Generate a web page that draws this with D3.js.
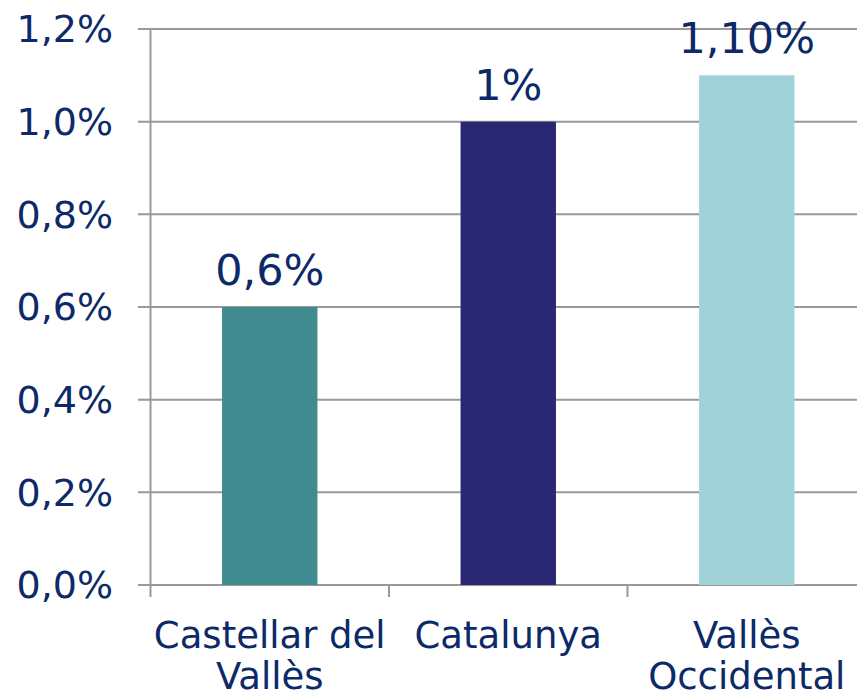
<!DOCTYPE html>
<html><head><meta charset="utf-8">
<script src="https://cdn.jsdelivr.net/npm/d3@7"></script>
<style>html,body{margin:0;padding:0;background:#fff;}svg{display:block;}</style>
</head><body>
<svg id="chart" width="857" height="694"></svg>
<script>
const categories = ["Castellar del Vallès", "Catalunya", "Vallès Occidental"];
const categoryLines = [["Castellar del", "Vallès"], ["Catalunya"], ["Vallès", "Occidental"]];
const values = [0.6, 1.0, 1.1];
const valueLabels = ["0,6%", "1%", "1,10%"];
const barColors = ["#3f8b90", "#2a2873", "#a0d3d7"];
const yTicks = [0, 0.2, 0.4, 0.6, 0.8, 1.0, 1.2];

(function () {
const textColor = "#0c2a68";
const gridColor = "#999999";
const font = "'DejaVu Sans', Verdana, sans-serif";

const svg = d3.select("#chart");
const mLeft = 150.5, mTop = 29, mBottom = 585;
const band = 238.5;
const x = d3.scaleBand().domain(categories).range([mLeft, mLeft + band * 3]).paddingInner(0).paddingOuter(0);
const y = d3.scaleLinear().domain([0, 1.2]).range([mBottom, mTop]);

svg.append("g").selectAll("line").data(yTicks).join("line")
  .attr("x1", 138).attr("x2", 857)
  .attr("y1", d => y(d)).attr("y2", d => y(d))
  .attr("stroke", gridColor).attr("stroke-width", 2);

svg.append("line").attr("x1", mLeft).attr("x2", mLeft).attr("y1", mTop).attr("y2", 597)
  .attr("stroke", gridColor).attr("stroke-width", 2);

svg.append("g").selectAll("line").data(categories.slice(1)).join("line")
  .attr("x1", d => x(d)).attr("x2", d => x(d))
  .attr("y1", mBottom).attr("y2", 597)
  .attr("stroke", gridColor).attr("stroke-width", 2);

svg.append("g").selectAll("text").data(yTicks).join("text")
  .attr("x", 113).attr("y", d => y(d)).attr("dy", "0.35em")
  .attr("text-anchor", "end")
  .attr("font-family", font).attr("font-size", 38).attr("fill", textColor)
  .text(d => d3.format(".1f")(d).replace(".", ",") + "%");

const bw = band * 0.4;
svg.append("g").selectAll("rect").data(values).join("rect")
  .attr("x", (d, i) => x(categories[i]) + (band - bw) / 2)
  .attr("width", bw)
  .attr("y", d => y(d))
  .attr("height", d => mBottom - y(d))
  .attr("fill", (d, i) => barColors[i]);

svg.append("g").selectAll("text").data(values).join("text")
  .attr("x", (d, i) => x(categories[i]) + band / 2)
  .attr("y", d => y(d) - 22)
  .attr("text-anchor", "middle")
  .attr("font-family", font).attr("font-size", 43).attr("fill", textColor)
  .text((d, i) => valueLabels[i]);

const cg = svg.append("g").selectAll("text").data(categories).join("text")
  .attr("x", d => x(d) + band / 2)
  .attr("y", 648)
  .attr("text-anchor", "middle")
  .attr("font-family", font).attr("font-size", 37).attr("fill", textColor);
cg.selectAll("tspan").data((d, i) => categoryLines[i]).join("tspan")
  .attr("x", function () { return d3.select(this.parentNode).attr("x"); })
  .attr("dy", (d, j) => j === 0 ? 0 : 41)
  .text(d => d);
})();
</script>
</body></html>
